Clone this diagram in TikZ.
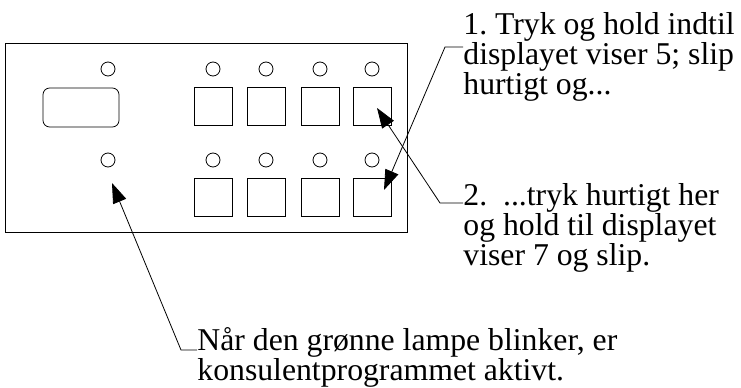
\documentclass[tikz,border=0pt]{standalone}
\usepackage{fontspec}
\setmainfont{Liberation Serif}
\usepackage{tikz}
\usetikzlibrary{positioning, arrows.meta, calc}
\frenchspacing

\begin{document}
\begin{tikzpicture}[x=0.75pt, y=-0.75pt, line width=0.6pt,
    panelbox/.style={rectangle, draw=black, inner sep=0pt, minimum width=301.5pt, minimum height=141.75pt},
    key/.style={rectangle, draw=black, inner sep=0pt, minimum width=28.5pt, minimum height=28.5pt},
    lamp/.style={circle, draw=black, inner sep=0pt, minimum size=10.5pt},
    label/.style={anchor=base west, align=left, inner sep=0pt, font=\fontsize{23.8}{22.5}\selectfont},
    pil/.style={-{Triangle[length=15pt, width=10.5pt]}}
]
\useasboundingbox (0,0) rectangle (741,388);

% panel with display
\node[panelbox] (panel) at (206,137.5) {};
\node[rectangle, draw=black, rounded corners=5pt, minimum width=57pt, minimum height=29.25pt] (display) at (81,107.5) {};

% lamps next to the display
\node[lamp] (lampT) at (108,69) {};
\node[lamp] (lampB) at (108,160) {};

% keys with lamps (top and bottom row)
\foreach \i/\x in {1/213, 2/266, 3/320, 4/372} {
    \node[lamp] (lt\i) at (\x,69) {};
    \node[key] (kt\i) at (\x,106.5) {};
    \node[lamp] (lb\i) at (\x,160) {};
    \node[key] (kb\i) at (\x,197) {};
}

% labels (placed at the baseline of their last line)
\node[label] (lab1) at (463,95) {1. Tryk og hold indtil\\displayet viser 5; slip\\hurtigt og...};
\node[label] (lab2) at (463,265) {2.~~...tryk hurtigt her\\og hold til displayet\\viser 7 og slip.};
\node[label] (lab3) at (197,380) {Når den grønne lampe blinker, er\\konsulentprogrammet aktivt.};

% leader bends
\coordinate (c1) at (445,47);
\coordinate (c2) at (440,203);
\coordinate (c3) at (181,350);

% arrows
\draw[pil] (lab1.base west |- c1) -- (c1) -- ($(kb4.center)+(12,-7)$);
\draw[pil] (lab2.base west |- c2) -- (c2) -- ($(kt4.center)+(5,1.5)$);
\draw[pil] (lab3.base west |- c3) -- (c3) -- ($(lampB.center)+(4,23)$);

\end{tikzpicture}
\end{document}
